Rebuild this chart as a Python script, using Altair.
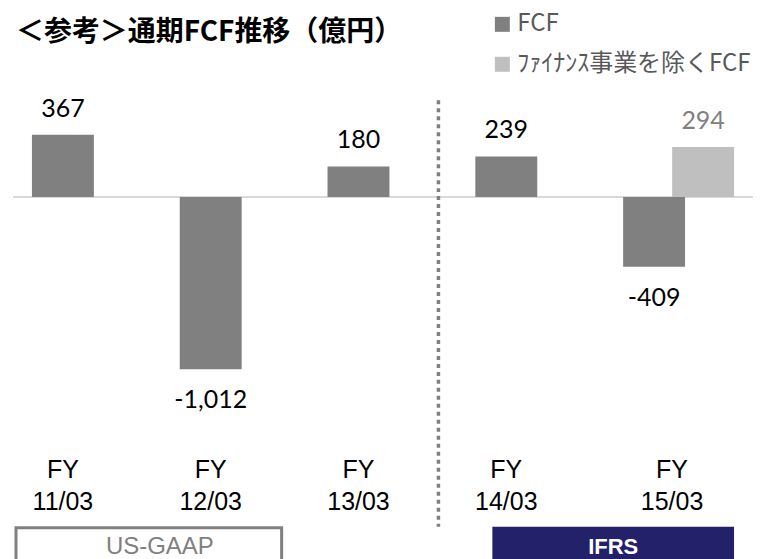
import altair as alt
import pandas as pd

# ---- data ----
categories = ["11/03", "12/03", "13/03", "14/03", "15/03"]
fcf_values = [367, -1012, 180, 239, -409]
exfin_categories = ["15/03"]
exfin_values = [294]
series_names = ["FCF", "ﾌｧｲﾅﾝｽ事業を除くFCF"]
title_text = "＜参考＞通期FCF推移（億円）"
regime_labels = ["US-GAAP", "IFRS"]

rows = []
for c, v in zip(categories, fcf_values):
    rows.append({"cat": c, "series": series_names[0], "value": v, "label": f"{v:,}"})
for c, v in zip(exfin_categories, exfin_values):
    rows.append({"cat": c, "series": series_names[1], "value": v, "label": f"{v:,}"})
df = pd.DataFrame(rows)
cat_df = pd.DataFrame({"cat": categories, "fy": ["FY"] * len(categories)})
title_df = pd.DataFrame({"t": [title_text]})
regime_df = pd.DataFrame({"regime": regime_labels})

W, H = 741, 350

band_kw = dict(domain=categories, paddingInner=0.581, paddingOuter=0.294)
x_enc = alt.X("cat:N", scale=alt.Scale(align=0.218, **band_kw), axis=None)
x_enc_ex = alt.X("cat:N", scale=alt.Scale(align=0.782, **band_kw), axis=None)
y_scale = alt.Scale(domain=[-1427, 628], nice=False, zero=True)
y_enc = alt.Y("value:Q", scale=y_scale, axis=None)
color_enc = alt.Color(
    "series:N",
    scale=alt.Scale(domain=series_names, range=["#808080", "#bfbfbf"]),
    legend=alt.Legend(
        orient="none", legendX=478, legendY=-78,
        symbolType="square", symbolSize=225, symbolStrokeWidth=0,
        labelFont="Noto Sans CJK JP", labelFontSize=24, labelColor="#595959",
        labelLimit=0, rowPadding=16, labelOffset=3,
    ),
    title=None,
)

base = alt.Chart(df)

baseline = base.transform_filter(alt.datum.cat == categories[0]).mark_rule(
    color="#d9d9d9", strokeWidth=2
).encode(y=alt.YDatum(0, scale=y_scale, axis=None))

bars_fcf = base.transform_filter(alt.datum.series == series_names[0]).mark_bar().encode(
    x=x_enc, y=y_enc, color=color_enc
)
bars_ex = base.transform_filter(alt.datum.series == series_names[1]).mark_bar().encode(
    x=x_enc_ex, y=y_enc, color=color_enc
)

txt_style = dict(font="Lato", fontSize=25)
lbl_pos = base.transform_filter(
    (alt.datum.series == series_names[0]) & (alt.datum.value >= 0)
).mark_text(baseline="bottom", dy=-13, color="#000000", **txt_style).encode(x=x_enc, y=y_enc, text="label:N")
lbl_neg = base.transform_filter(
    (alt.datum.series == series_names[0]) & (alt.datum.value < 0)
).mark_text(baseline="top", dy=19, color="#000000", **txt_style).encode(x=x_enc, y=y_enc, text="label:N")
lbl_ex = base.transform_filter(alt.datum.series == series_names[1]).mark_text(
    baseline="bottom", dy=-13, color="#808080", **txt_style
).encode(x=x_enc_ex, y=y_enc, text="label:N")

# category labels (two lines), the last one centred on its two-bar group
cat_base = alt.Chart(cat_df)
cat_style = dict(font="Liberation Sans", fontSize=25, color="#000000", baseline="alphabetic")
x_band = alt.X("cat:N", scale=alt.Scale(align=0.218, **band_kw), axis=None, bandPosition=0.5)
x_band_last = alt.X("cat:N", scale=alt.Scale(align=0.218, **band_kw), axis=None, bandPosition=0.79)
single = cat_base.transform_filter(alt.datum.cat != categories[-1])
last = cat_base.transform_filter(alt.datum.cat == categories[-1])
cat_fy = single.mark_text(**cat_style).encode(x=x_band, y=alt.value(388), text="fy:N")
cat_yr = single.mark_text(**cat_style).encode(x=x_band, y=alt.value(420), text="cat:N")
cat_fy_l = last.mark_text(**cat_style).encode(x=x_band_last, y=alt.value(388), text="fy:N")
cat_yr_l = last.mark_text(**cat_style).encode(x=x_band_last, y=alt.value(420), text="cat:N")

title_mark = alt.Chart(title_df).mark_text(
    font="Noto Sans CJK JP", fontSize=28, fontWeight="bold", color="#000000",
    align="left", baseline="middle",
).encode(x=alt.value(3), y=alt.value(-57), text="t:N")

rb = alt.Chart(regime_df)
divider = rb.transform_filter(alt.datum.regime == regime_labels[0]).mark_rule(
    color="#808080", strokeWidth=3.5, strokeDash=[4, 4]
).encode(x=alt.value(426), y=alt.value(10), y2=alt.value(437))

gaap = rb.transform_filter(alt.datum.regime == regime_labels[0])
ifrs = rb.transform_filter(alt.datum.regime == regime_labels[1])
box_gaap = gaap.mark_rect(fill="#ffffff", stroke="#808080", strokeWidth=3).encode(
    x=alt.value(3), x2=alt.value(269), y=alt.value(438), y2=alt.value(490)
)
txt_gaap = gaap.mark_text(font="Liberation Sans", fontSize=24, color="#808080", baseline="middle").encode(
    x=alt.value(147), y=alt.value(457), text="regime:N"
)
box_ifrs = ifrs.mark_rect(fill="#23216a").encode(
    x=alt.value(480), x2=alt.value(722), y=alt.value(437), y2=alt.value(490)
)
txt_ifrs = ifrs.mark_text(font="Liberation Sans", fontSize=22, fontWeight="bold", color="#ffffff", baseline="middle").encode(
    x=alt.value(601), y=alt.value(457), text="regime:N"
)

main = alt.layer(baseline, bars_fcf, lbl_pos, lbl_neg, cat_fy, cat_yr, cat_fy_l, cat_yr_l)
extra = alt.layer(bars_ex, lbl_ex)
deco = alt.layer(title_mark, divider, box_gaap, txt_gaap, box_ifrs, txt_ifrs)

chart = alt.layer(main, extra, deco).resolve_scale(x="independent").properties(
    width=W, height=H,
    autosize=alt.AutoSizeParams(type="none"),
    padding={"left": 5, "top": 82, "right": 10, "bottom": 120},
).configure_view(strokeOpacity=0)

chart.save("out.html", embed_options={"renderer": "svg", "actions": False})
